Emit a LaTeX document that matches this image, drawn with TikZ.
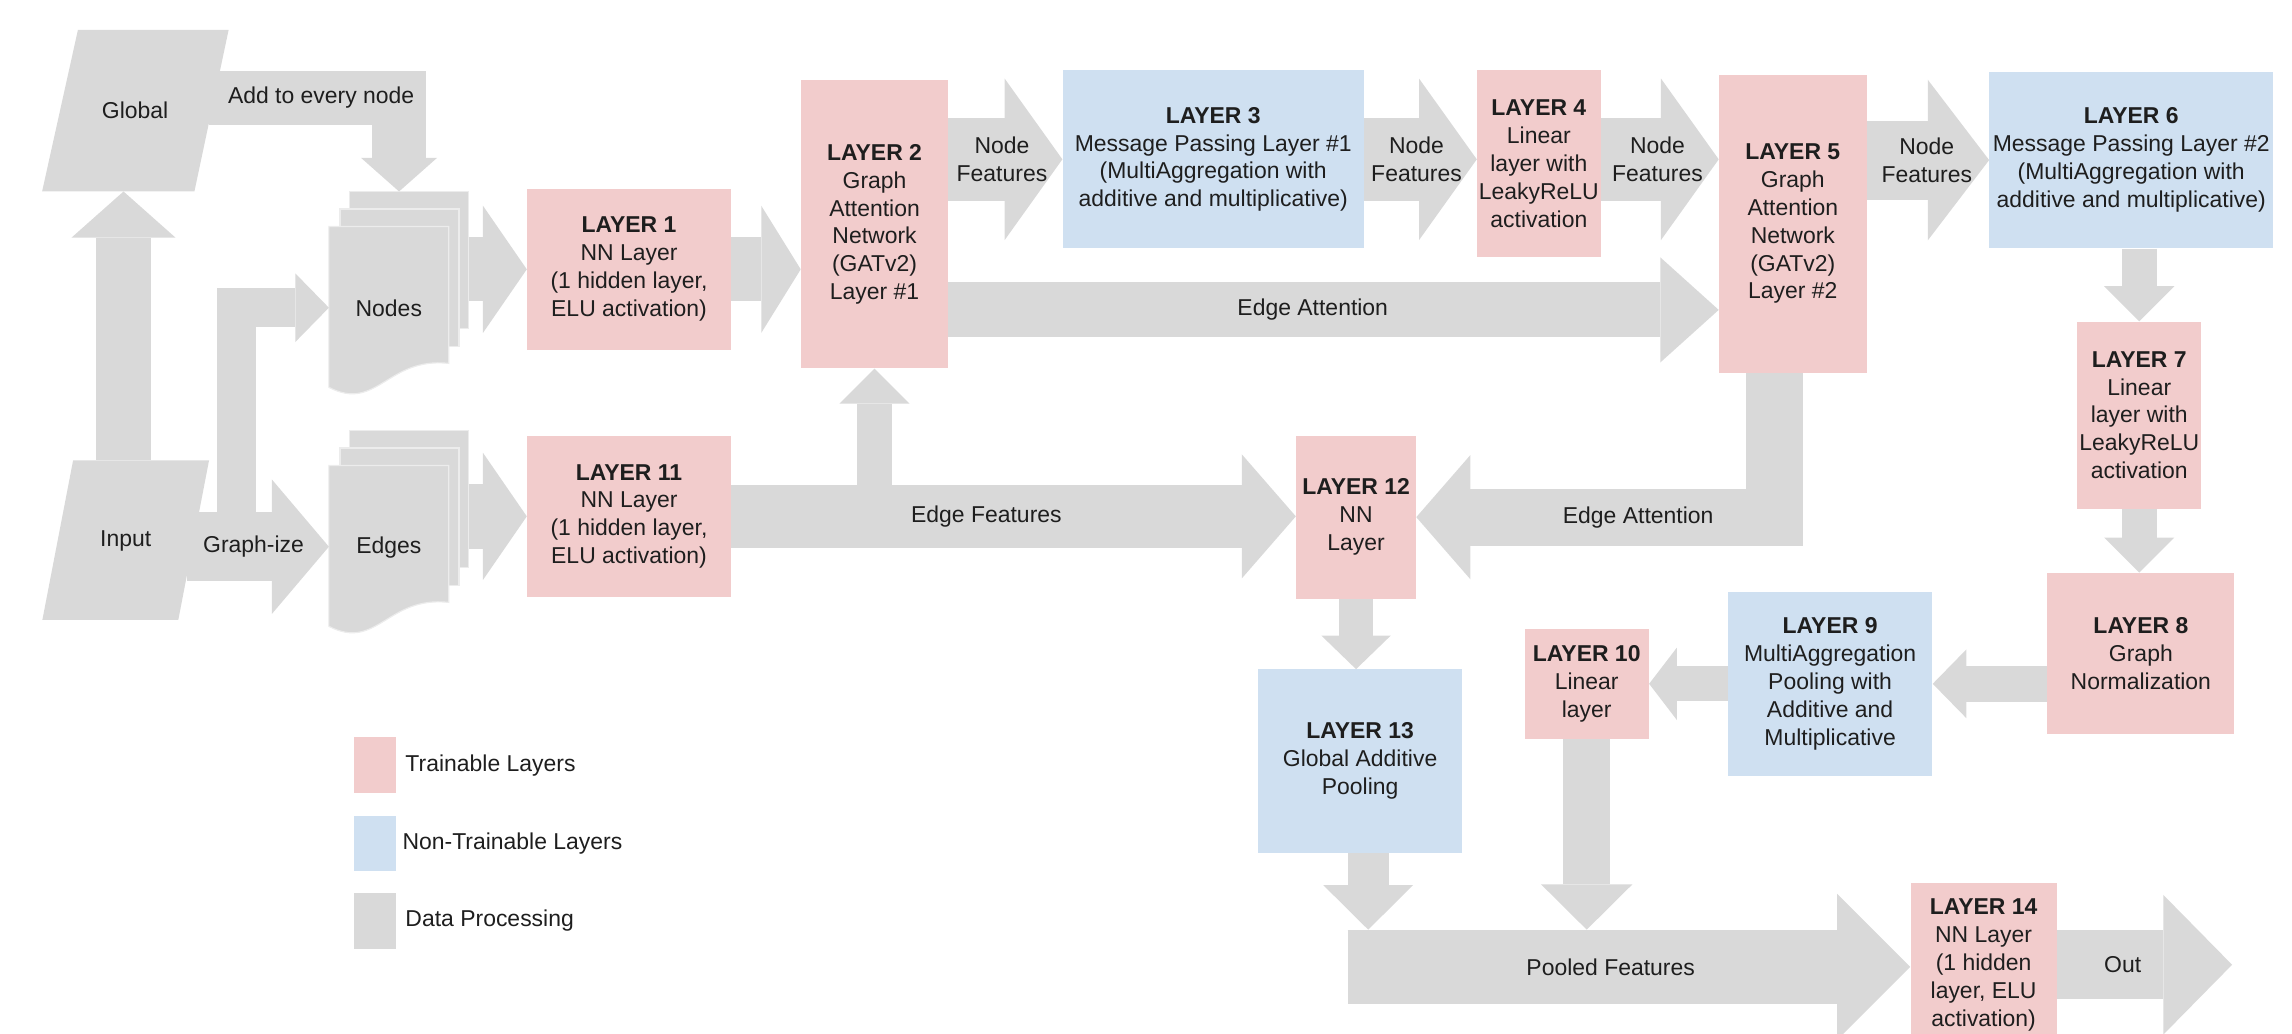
\documentclass[tikz,border=0pt]{standalone}
\usepackage{fontspec}
\setmainfont{Liberation Sans}
\usetikzlibrary{arrows.meta, positioning}
\definecolor{pinkLayer}{RGB}{242,204,204}
\definecolor{blueLayer}{RGB}{207,224,241}
\definecolor{greyFlow}{RGB}{217,217,217}
\definecolor{inkText}{RGB}{30,30,30}

% stack of three sheets (nodes / edges)
\newcommand{\docstack}[3]{%
  \begin{scope}[yshift=-#1pt]
    \filldraw[sheet] (239,131) rectangle (320.6,224.6);
    \filldraw[sheet] (232.6,143) rectangle (314,237);
    \filldraw[sheet] (225,155) -- (307,155) -- (307,248.6)
      .. controls (265,244) and (258,282) .. (225,265) -- cycle;
    \node[txt] (#2) at (266,211) {#3};
    \coordinate (#2T) at (273,131);
    \coordinate (#2L) at (225,210.5);
    \coordinate (#2R) at (320.6,211);
  \end{scope}}

\begin{document}
\begin{tikzpicture}[x=1pt, y=-1pt,
  txt/.style={font=\fontsize{15.7}{19.1}\selectfont, text=inkText, align=center, inner sep=0pt},
  lbl/.style={txt},
  layer/.style={txt, fill=pinkLayer},
  layerNT/.style={txt, fill=blueLayer},
  sheet/.style={fill=greyFlow, draw=white!50!greyFlow, line width=0.8pt},
  flow/.style n args={3}{draw=greyFlow, line width=#1pt, line join=miter,
    -{Triangle[length=#3pt, width=#2pt, line width=0pt]}}
]
  \useasboundingbox (0,0) rectangle (1568,707);
  \clip (0,0) rectangle (1568,707);

  % inputs
  \fill[greyFlow] (28.8,131) -- (133,131) -- (156.4,20.5) -- (53.3,20.5) -- cycle;
  \fill[greyFlow] (29,424) -- (122,424) -- (143,315) -- (50,315) -- cycle;
  \node[txt] (global) at (92.4,75.7) {Global};
  \node[txt] (input) at (86,370) {Input};
  \docstack{0}{nodes}{Nodes}
  \docstack{163.5}{edges}{Edges}

  % layers
  \node[layer, minimum width=139.4, minimum height=110.5] (l1) at (430.3,184.25)
    {\textbf{LAYER 1}\\NN Layer\\(1 hidden layer,\\ELU activation)};
  \node[layer, minimum width=139.4, minimum height=110.5] (l11) at (430.3,353.25)
    {\textbf{LAYER 11}\\NN Layer\\(1 hidden layer,\\ELU activation)};
  \node[layer, minimum width=100.6, minimum height=197] (l2) at (598.3,153.5)
    {\textbf{LAYER 2}\\Graph\\Attention\\Network\\(GATv2)\\Layer \#1};
  \node[layerNT, minimum width=206, minimum height=122] (l3) at (830,109)
    {\textbf{LAYER 3}\\Message Passing Layer \#1\\(MultiAggregation with\\additive and multiplicative)};
  \node[layer, minimum width=84.5, minimum height=128] (l4) at (1052.75,112)
    {\textbf{LAYER 4}\\Linear\\layer with\\LeakyReLU\\activation};
  \node[layer, minimum width=101, minimum height=204] (l5) at (1226.5,153)
    {\textbf{LAYER 5}\\Graph\\Attention\\Network\\(GATv2)\\Layer \#2};
  \node[layerNT, minimum width=194, minimum height=121] (l6) at (1458,109.5)
    {\textbf{LAYER 6}\\Message Passing Layer \#2\\(MultiAggregation with\\additive and multiplicative)};
  \node[layer, minimum width=85, minimum height=128] (l7) at (1463.5,284)
    {\textbf{LAYER 7}\\Linear\\layer with\\LeakyReLU\\activation};
  \node[layer, minimum width=128, minimum height=110] (l8) at (1464.6,447)
    {\textbf{LAYER 8}\\Graph\\Normalization};
  \node[layerNT, minimum width=140, minimum height=125.6] (l9) at (1252,467.8)
    {\textbf{LAYER 9}\\MultiAggregation\\Pooling with\\Additive and\\Multiplicative};
  \node[layer, minimum width=85, minimum height=75.6] (l10) at (1085.5,467.8)
    {\textbf{LAYER 10}\\Linear\\layer};
  \node[layer, minimum width=82, minimum height=111.6] (l12) at (927.7,353.8)
    {\textbf{LAYER 12}\\NN\\Layer};
  \node[layerNT, minimum width=140, minimum height=125.6] (l13) at (930.5,520.8)
    {\textbf{LAYER 13}\\Global Additive\\Pooling};
  \node[layer, minimum width=100, minimum height=112] (l14) at (1357,660)
    {\textbf{LAYER 14}\\NN Layer\\(1 hidden\\layer, ELU\\activation)};

  \coordinate (globalB) at (84.5,131);
  \coordinate (inputT) at (84.5,315);
  \coordinate (globalR) at (143,66.75);
  \coordinate (inputR) at (128,374);
  \coordinate (forkA) at (161.7,352);
  \coordinate (forkB) at (598.3,332);
  \coordinate (attnA) at (648.6,212);
  \coordinate (poolL) at (922,661.5);
  \coordinate (poolTop) at (922,636);
  \coordinate (out) at (1527,660);

  % data flow
  \draw[flow={37}{71}{31.5}] (inputT) -- (globalB);
  \draw[flow={37}{52}{23}] (globalR) -- node[lbl, pos=0.59] {Add to every node} (nodesT |- globalR) -- (nodesT);
  \draw[flow={26.6}{47}{23}] (forkA) |- (nodesL);
  \draw[flow={47}{92}{39}] (inputR) -- node[lbl, pos=0.469] {Graph-ize} (edgesL);
  \draw[flow={44}{87}{30}] (l1.west -| nodesR) -- (l1.west);
  \draw[flow={44}{87}{30}] (l11.west -| edgesR) -- (l11.west);
  \draw[flow={44}{87}{27}] (l1.east) -- (l1.east -| l2.west);
  \draw[flow={24}{48}{24}] (forkB) -- (forkB |- l2.south);
  \draw[flow={43}{85}{37}] (l11.east) -- node[lbl, pos=0.452] {Edge Features} (l11.east -| l12.west);
  \draw[flow={56.5}{110.5}{39.5}] (l2.east |- l3) -- node[lbl, pos=0.47] {Node\\Features} (l3.west);
  \draw[flow={56.5}{110.5}{39.5}] (l3.east) -- node[lbl, pos=0.465] {Node\\Features} (l3.east -| l4.west);
  \draw[flow={56.5}{110.5}{39.5}] (l4.east |- l3) -- node[lbl, pos=0.48] {Node\\Features} (l5.west |- l3);
  \draw[flow={54}{110}{42}] (l5.east |- l6) -- node[lbl, pos=0.49] {Node\\Features} (l6.west);
  \draw[flow={37.5}{72}{40}] (l2.east |- attnA) -- node[lbl, pos=0.473] {Edge Attention} (l5.west |- attnA);
  \draw[flow={39}{85}{37}] ([xshift=-12.75]l5.south) |- node[lbl, pos=0.69] {Edge Attention} (l12.east);
  \draw[flow={24}{48}{24}] (l7 |- l6.south) -- (l7.north);
  \draw[flow={24}{48}{24}] (l7.south) -- (l8.north -| l7);
  \draw[flow={24.6}{47}{23}] (l8.west |- l9) -- (l9.east);
  \draw[flow={24}{49.6}{19}] (l9.west) -- (l9.west -| l10.east);
  \draw[flow={23}{47.5}{23}] (l12.south) -- (l12.south |- l13.north);
  \draw[flow={32}{62.5}{31}] (l10.south) -- (l10.south |- poolTop);
  \draw[flow={28}{61.5}{30.5}] ([xshift=5.5]l13.south) -- ([xshift=5.5]l13.south |- poolTop);
  \draw[flow={51}{100}{50}] (poolL) -- node[lbl, pos=0.4675] {Pooled Features} (poolL -| l14.west);
  \draw[flow={47.4}{95.5}{47}] (l14.east) -- node[lbl, pos=0.375] {Out} (out);

  % legend
  \node[fill=pinkLayer, minimum width=29, minimum height=38, inner sep=0pt] (keyT) at (256.5,523.5) {};
  \node[fill=blueLayer, minimum width=29, minimum height=38, inner sep=0pt] (keyN) at (256.5,577) {};
  \node[fill=greyFlow, minimum width=29, minimum height=38, inner sep=0pt] (keyD) at (256.5,630) {};
  \node[lbl, right=6pt of keyT] (keyTtxt) {Trainable Layers};
  \node[lbl, right=4pt of keyN] (keyNtxt) {Non-Trainable Layers};
  \node[lbl, right=6pt of keyD] (keyDtxt) {Data Processing};
\end{tikzpicture}
\end{document}
